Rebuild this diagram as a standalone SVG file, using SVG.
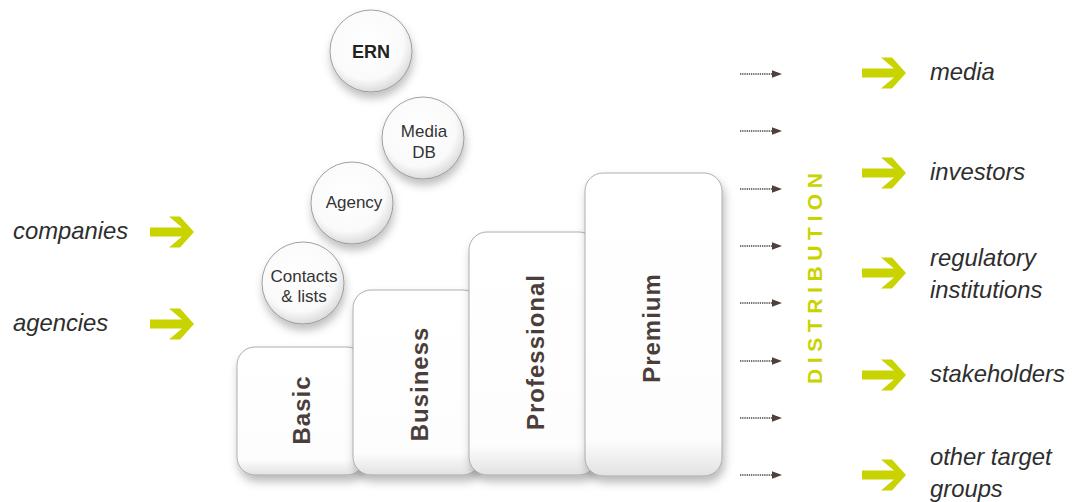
<svg xmlns="http://www.w3.org/2000/svg" width="1083" height="502" viewBox="0 0 1083 502">
<style>
.lbl{font-family:"Liberation Sans",Arial,sans-serif;font-style:italic;font-size:23.8px;fill:#2e2e2e}
.box{fill:url(#boxg);stroke:#9a9a9a;stroke-width:0.8;filter:url(#sh)}
.btxt{font-family:"Liberation Sans",Arial,sans-serif;font-weight:bold;font-size:24px;letter-spacing:1px;fill:#4b3e3a;text-anchor:middle}
.circ{fill:url(#cg);stroke:#8a8a8a;stroke-width:0.8;filter:url(#csh)}
.ctxt{font-family:"Liberation Sans",Arial,sans-serif;font-size:17px;fill:#333;text-anchor:middle}
.garrow{fill:#c9d300}
.dline{stroke:#4e403b;stroke-width:1.4;stroke-dasharray:1.3 0.9}
.dhead{fill:#4e403b}
.dist{font-family:"Liberation Sans",Arial,sans-serif;font-weight:bold;font-size:21px;letter-spacing:5.6px;fill:#c9d300}
</style>
<defs>
<linearGradient id="boxg" x1="0" y1="0" x2="0" y2="1">
<stop offset="0" stop-color="#ffffff"/>
<stop offset="0.88" stop-color="#fdfdfd"/>
<stop offset="1" stop-color="#e2e2e2"/>
</linearGradient>
<radialGradient id="cg" cx="0.45" cy="0.4" r="0.6">
<stop offset="0" stop-color="#ffffff"/>
<stop offset="0.75" stop-color="#fafafa"/>
<stop offset="1" stop-color="#dcdcdc"/>
</radialGradient>
<filter id="sh" x="-20%" y="-10%" width="140%" height="130%">
<feDropShadow dx="2" dy="6" stdDeviation="5" flood-color="#000" flood-opacity="0.28"/>
</filter>
<filter id="csh" x="-30%" y="-30%" width="160%" height="170%">
<feDropShadow dx="1" dy="6" stdDeviation="4" flood-color="#000" flood-opacity="0.25"/>
</filter>
<path id="ga" d="M-44,-4.5 H-12 L-25,-15.5 H-14 L0,0 L-14,15.5 H-25 L-12,4.5 H-44 Z"/>
<g id="da">
<line class="dline" x1="740" y1="0" x2="773" y2="0"/>
<polygon class="dhead" points="772,-3.8 782,0 772,3.8"/>
</g>
</defs>

<g id="connectors">
<use href="#ga" class="garrow" transform="translate(194,232)"/>
<use href="#ga" class="garrow" transform="translate(194,324)"/>
<use href="#ga" class="garrow" transform="translate(906,73)"/>
<use href="#ga" class="garrow" transform="translate(906,173)"/>
<use href="#ga" class="garrow" transform="translate(906,273)"/>
<use href="#ga" class="garrow" transform="translate(906,375)"/>
<use href="#ga" class="garrow" transform="translate(906,475)"/>
<use href="#da" transform="translate(0,74)"/>
<use href="#da" transform="translate(0,131)"/>
<use href="#da" transform="translate(0,189)"/>
<use href="#da" transform="translate(0,246)"/>
<use href="#da" transform="translate(0,303)"/>
<use href="#da" transform="translate(0,361)"/>
<use href="#da" transform="translate(0,418)"/>
<use href="#da" transform="translate(0,475)"/>
</g>

<g id="companies"><text class="lbl" x="13" y="239">companies</text></g>
<g id="agencies"><text class="lbl" x="13" y="331">agencies</text></g>

<g id="basic">
<rect class="box" x="237" y="347" width="128" height="128" rx="18"/>
<text class="btxt" transform="translate(310,410) rotate(-90)">Basic</text>
</g>
<g id="business">
<rect class="box" x="353" y="290" width="128" height="185" rx="18"/>
<text class="btxt" transform="translate(428,384) rotate(-90)">Business</text>
</g>
<g id="professional">
<rect class="box" x="469" y="232" width="128" height="243" rx="18"/>
<text class="btxt" transform="translate(544,352) rotate(-90)">Professional</text>
</g>
<g id="premium">
<rect class="box" x="585" y="173" width="137" height="303" rx="18"/>
<text class="btxt" transform="translate(660,328) rotate(-90)">Premium</text>
</g>

<g id="ern">
<circle class="circ" cx="371" cy="51" r="41"/>
<text class="ctxt" x="371" y="58" style="font-weight:bold;font-size:18px;fill:#222">ERN</text>
</g>
<g id="mediadb">
<circle class="circ" cx="423" cy="138" r="41"/>
<text class="ctxt" x="424" y="137">Media</text>
<text class="ctxt" x="424" y="158">DB</text>
</g>
<g id="agency">
<circle class="circ" cx="352" cy="203" r="41"/>
<text class="ctxt" x="354" y="208">Agency</text>
</g>
<g id="contacts">
<circle class="circ" cx="303" cy="283" r="41"/>
<text class="ctxt" x="304" y="282">Contacts</text>
<text class="ctxt" x="304" y="302">&amp; lists</text>
</g>

<g id="distribution">
<text class="dist" transform="translate(822,384) rotate(-90)">DISTRIBUTION</text>
</g>

<g id="media"><text class="lbl" x="930" y="80">media</text></g>
<g id="investors"><text class="lbl" x="930" y="180">investors</text></g>
<g id="regulatory"><text class="lbl" x="930" y="266">regulatory</text><text class="lbl" x="930" y="298">institutions</text></g>
<g id="stakeholders"><text class="lbl" x="930" y="382">stakeholders</text></g>
<g id="other"><text class="lbl" x="930" y="465">other target</text><text class="lbl" x="930" y="497">groups</text></g>
</svg>
